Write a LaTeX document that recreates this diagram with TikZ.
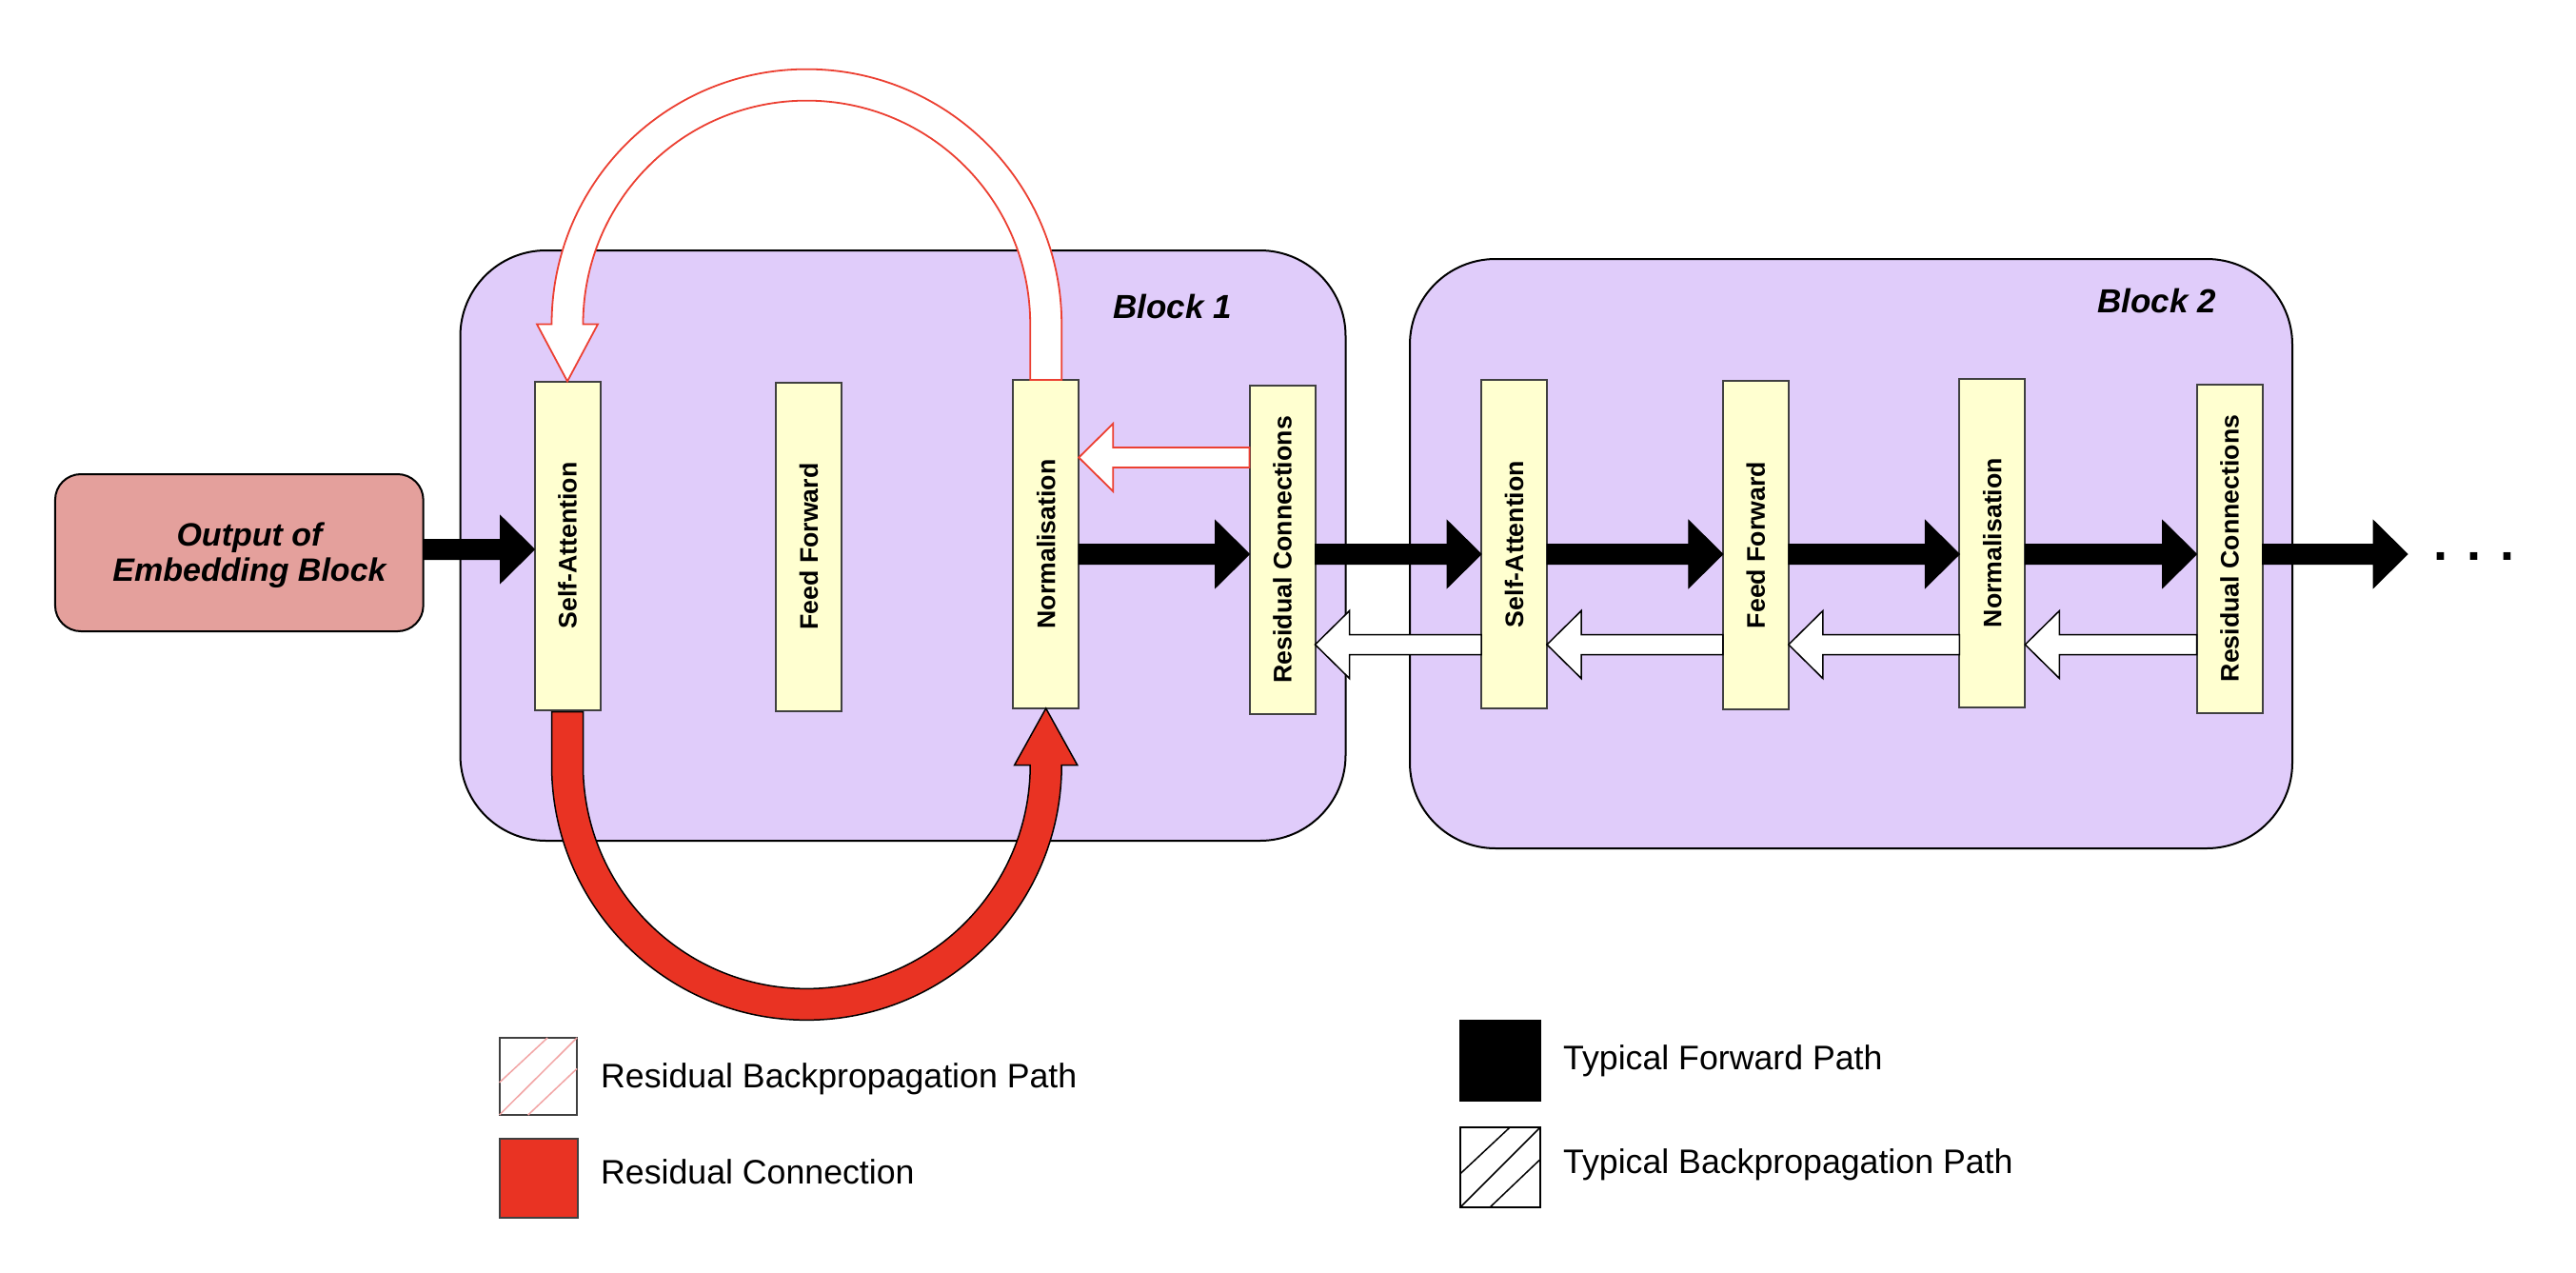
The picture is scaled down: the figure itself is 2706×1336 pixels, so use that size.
\documentclass[tikz,border=0pt]{standalone}
\usepackage{fontspec}
\setmainfont{Liberation Sans}
\usepackage{graphicx}
\usetikzlibrary{calc}
\definecolor{lav}{RGB}{224,204,250}
\definecolor{ylw}{RGB}{255,255,208}
\definecolor{salmon}{RGB}{228,160,156}
\definecolor{resred}{RGB}{233,51,35}
\definecolor{resline}{RGB}{236,64,50}
\definecolor{hatchpink}{RGB}{242,165,165}
\definecolor{edgegray}{RGB}{64,64,64}
\newcommand\cmpfont{\fontsize{26.7}{32}\selectfont\bfseries}
\newcommand\ttlfont{\fontsize{35}{40}\selectfont\bfseries\itshape}
\newcommand\embfont{\fontsize{34}{37}\selectfont\bfseries\itshape}
\newcommand\legfont{\fontsize{35.7}{40}\selectfont}
% block arrow pointing right: style, from, to, y
\newcommand\myRarrow[4]{\path[#1] let \p1=(#2), \p2=(#3) in (\x1,#4-10.5) -- (\x2-36pt,#4-10.5) -- (\x2-36pt,#4-35.5) -- (\x2,#4) -- (\x2-36pt,#4+35.5) -- (\x2-36pt,#4+10.5) -- (\x1,#4+10.5) -- cycle;}
% block arrow pointing left: style, from, to, y
\newcommand\myLarrow[4]{\path[#1] let \p1=(#2), \p2=(#3) in (\x1,#4-10.5) -- (\x2+36pt,#4-10.5) -- (\x2+36pt,#4-35.5) -- (\x2,#4) -- (\x2+36pt,#4+35.5) -- (\x2+36pt,#4+10.5) -- (\x1,#4+10.5) -- cycle;}
\begin{document}
\begin{tikzpicture}[x=1pt,y=-1pt,
  blk/.style={draw=black, line width=2pt, fill=lav, rounded corners=90pt, inner sep=0pt, outer sep=0pt},
  comp/.style={draw=edgegray, line width=2pt, fill=ylw, minimum width=69pt, minimum height=345pt, inner sep=0pt, outer sep=0pt, font=\cmpfont},
  ttl/.style={font=\ttlfont, inner sep=0pt, anchor=base west},
  fwd/.style={fill=black, draw=black, line width=1pt},
  bwd/.style={fill=white, draw=black, line width=1.5pt},
  rbwd/.style={fill=white, draw=resline, line width=1.8pt},
  lgbox/.style={line width=2pt, inner sep=0pt, outer sep=0pt},
  legtext/.style={font=\legfont, inner sep=0pt, anchor=base west}
]
\fill[white] (0,0) rectangle (2706,1336);
\useasboundingbox (0,0) rectangle (2706,1336);

% blocks
\node[blk, minimum width=930pt, minimum height=620pt] (b1) at (948.5,573) {};
\node[blk, minimum width=927pt, minimum height=619pt] (b2) at (1944.5,581.5) {};
\node[ttl] (t1) at (1169,334) {Block 1};
\node[ttl] (t2) at (2203,328) {Block 2};

% embedding output
\node[draw=black, line width=2pt, fill=salmon, rounded corners=27pt, minimum width=386.7pt, minimum height=165pt, inner sep=0pt, outer sep=0pt] (emb) at (251.3,580.5) {};
\node[font=\embfont, align=center, inner sep=0pt] (embtxt) at (262,583) {Output of\\Embedding Block};

% components
\node[comp] (sa1) at (596,573) {\rotatebox{90}{Self-Attention}};
\node[comp] (ff1) at (849.5,574) {\rotatebox{90}{Feed Forward}};
\node[comp] (n1) at (1098.7,571.5) {\rotatebox{90}{Normalisation}};
\node[comp] (rc1) at (1347,577.3) {\rotatebox{90}{Residual Connections}};
\node[comp] (sa2) at (1590.5,571.5) {\rotatebox{90}{Self-Attention}};
\node[comp] (ff2) at (1844.3,572.5) {\rotatebox{90}{Feed Forward}};
\node[comp] (n2) at (2092.8,570) {\rotatebox{90}{Normalisation}};
\node[comp] (rc2) at (2342,576) {\rotatebox{90}{Residual Connections}};

% forward path
\myRarrow{fwd}{emb.east}{sa1.west}{577}
\myRarrow{fwd}{n1.east}{rc1.west}{582}
\myRarrow{fwd}{rc1.east}{sa2.west}{582}
\myRarrow{fwd}{sa2.east}{ff2.west}{582}
\myRarrow{fwd}{ff2.east}{n2.west}{582}
\myRarrow{fwd}{n2.east}{rc2.west}{582}
\coordinate (fend) at (2529,582);
\myRarrow{fwd}{rc2.east}{fend}{582}
\node[font=\fontsize{54}{60}\selectfont\bfseries, inner sep=0pt, anchor=base] (dots) at (2598.5,588) {. . .};

% backpropagation path
\myLarrow{bwd}{sa2.west}{rc1.east}{677}
\myLarrow{bwd}{ff2.west}{sa2.east}{677}
\myLarrow{bwd}{n2.west}{ff2.east}{677}
\myLarrow{bwd}{rc2.west}{n2.east}{677}
\myLarrow{rbwd}{rc1.west}{n1.east}{480.5}

% residual backpropagation path (top arc)
\path[rbwd] let \p1=(n1.north), \p2=(sa1.north), \n2={(\x1-\x2)/2+16.5}, \n3={(\x1-\x2)/2-16.5} in
  (\x1+16.5pt,\y1) -- (\x1+16.5pt,\y2+60pt) arc[start angle=0, end angle=180, radius=\n2*1pt]
  -- (\x2-32pt,\y2+60pt) -- (\x2,\y2) -- (\x2+32pt,\y2+60pt) -- (\x2+16.5pt,\y2+60pt)
  arc[start angle=180, end angle=0, radius=\n3*1pt] -- (\x1-16.5pt,\y1) -- cycle;

% residual connection (bottom arc)
\path[fill=resred, draw=black, line width=1.5pt] let \p1=(sa1.south), \p2=(n1.south), \n2={(\x2-\x1)/2+16.5}, \n3={(\x2-\x1)/2-16.5} in
  (\x1-16.5pt,\y1-2pt) -- (\x1-16.5pt,\y1-58pt) arc[start angle=180, end angle=360, radius=\n2*1pt]
  -- (\x2+33pt,\y1-58pt) -- (\x2,\y2) -- (\x2-33pt,\y1-58pt) -- (\x2-16.5pt,\y1-58pt)
  arc[start angle=0, end angle=-180, radius=\n3*1pt] -- (\x1+16.5pt,\y1-2pt) -- cycle;

% legend
\node[lgbox, draw=edgegray, fill=white, minimum width=81.5pt, minimum height=81pt] (lgA) at (565.3,1130.5) {};
\draw[hatchpink, line width=1.5pt]
  ($(lgA.north west)!0.58!(lgA.south west)$) -- ($(lgA.north west)!0.62!(lgA.north east)$)
  (lgA.south west) -- (lgA.north east)
  ($(lgA.south west)!0.37!(lgA.south east)$) -- ($(lgA.north east)!0.40!(lgA.south east)$);
\node[legtext] (tA) at (631,1142) {Residual Backpropagation Path};

\node[lgbox, draw=edgegray, fill=resred, minimum width=82.5pt, minimum height=83pt] (lgB) at (565.8,1237.5) {};
\node[legtext] (tB) at (631,1243) {Residual Connection};

\node[lgbox, draw=black, fill=black, minimum width=84pt, minimum height=84pt] (lgC) at (1576,1114) {};
\node[legtext] (tC) at (1642,1123) {Typical Forward Path};

\node[lgbox, draw=black, line width=1.5pt, fill=white, minimum width=84pt, minimum height=84pt] (lgD) at (1576,1226) {};
\draw[black, line width=1.5pt]
  ($(lgD.north west)!0.58!(lgD.south west)$) -- ($(lgD.north west)!0.62!(lgD.north east)$)
  (lgD.south west) -- (lgD.north east)
  ($(lgD.south west)!0.37!(lgD.south east)$) -- ($(lgD.north east)!0.40!(lgD.south east)$);
\node[legtext] (tD) at (1642,1232) {Typical Backpropagation Path};
\end{tikzpicture}
\end{document}
